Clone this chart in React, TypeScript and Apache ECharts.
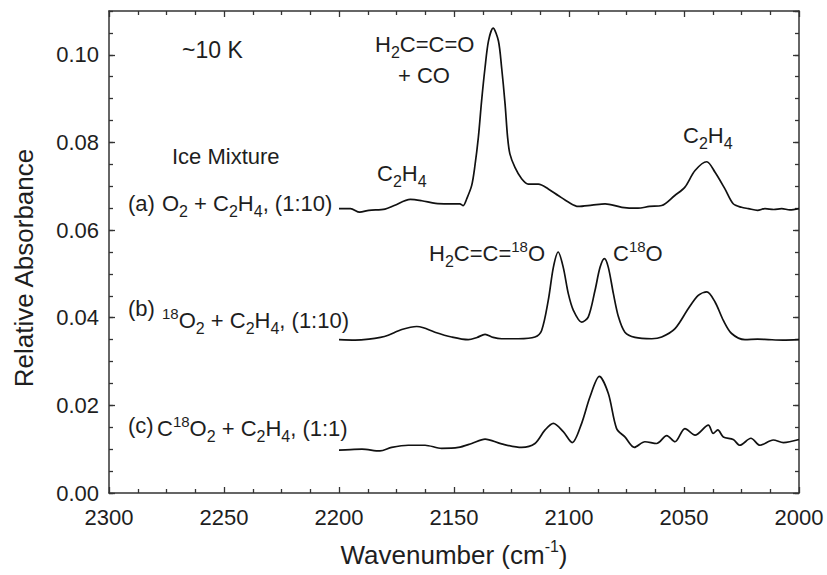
import React, { useEffect, useRef } from "react";
import * as echarts from "echarts";

// ---- data ----
const A_WN = [2200, 2195, 2191, 2187, 2180, 2176, 2169, 2164, 2158, 2152.5, 2147.5, 2146, 2144.5, 2142.3, 2141, 2139.4, 2138, 2136.5, 2135, 2133, 2130.7, 2129.3, 2127.8, 2126.7, 2125.7, 2123.5, 2120.6, 2117.7, 2113.3, 2109, 2104.7, 2100.3, 2096, 2090, 2084.3, 2077, 2070, 2065, 2059.7, 2054, 2049.6, 2045.2, 2040.1, 2036.5, 2032.2, 2028.6, 2025, 2022, 2018, 2014.8, 2011, 2007.5, 2004, 2000];
const A_VAL = [0.0649, 0.0649, 0.0641, 0.0645, 0.0648, 0.0656, 0.067, 0.0667, 0.0661, 0.066, 0.066, 0.0656, 0.0671, 0.0702, 0.0743, 0.0812, 0.0895, 0.0971, 0.1032, 0.1061, 0.1032, 0.0971, 0.0888, 0.0812, 0.0774, 0.0743, 0.0717, 0.0705, 0.0705, 0.0694, 0.0679, 0.0664, 0.0654, 0.0657, 0.066, 0.0652, 0.065, 0.0654, 0.0656, 0.0679, 0.0698, 0.0736, 0.0756, 0.0732, 0.0694, 0.066, 0.0652, 0.0649, 0.0645, 0.0649, 0.0647, 0.0649, 0.0646, 0.0649];

const B_WN = [2200, 2193, 2187, 2182, 2178.6, 2172.7, 2166.2, 2163.3, 2158.3, 2151, 2143.8, 2140, 2136.5, 2133, 2129.3, 2122, 2114.8, 2111.9, 2109, 2106.8, 2104.7, 2102.5, 2100.3, 2098.1, 2094.5, 2091.6, 2088.7, 2086.5, 2084.6, 2082.9, 2080.7, 2078.5, 2075.7, 2071.3, 2064, 2059.7, 2053.9, 2048.1, 2043.8, 2040.1, 2036.5, 2032.9, 2029.3, 2023.5, 2018, 2013.3, 2007, 2000];
const B_VAL = [0.035, 0.0349, 0.0351, 0.0355, 0.036, 0.0373, 0.038, 0.0377, 0.0367, 0.0356, 0.035, 0.0355, 0.0362, 0.0355, 0.0352, 0.0352, 0.0356, 0.0371, 0.044, 0.0515, 0.055, 0.0515, 0.0455, 0.0417, 0.039, 0.0402, 0.0462, 0.0515, 0.0535, 0.0515, 0.0455, 0.0402, 0.0367, 0.0355, 0.0352, 0.0356, 0.0375, 0.0421, 0.0451, 0.0459, 0.0436, 0.0394, 0.0364, 0.035, 0.0351, 0.035, 0.0349, 0.035];

const C_WN = [2200, 2195, 2190, 2182.2, 2177.1, 2169.9, 2162.6, 2155.4, 2148.1, 2142.3, 2136.5, 2129.3, 2120.6, 2114.8, 2110.4, 2106.8, 2102.5, 2098.6, 2094.5, 2090.9, 2086.8, 2082.9, 2079.3, 2075.7, 2071.6, 2067, 2061.9, 2057.5, 2053.9, 2049.6, 2045.2, 2039.4, 2037.3, 2035.3, 2032.9, 2028.6, 2025.7, 2020.9, 2017, 2011.2, 2006.8, 2000];
const C_VAL = [0.0098, 0.0099, 0.01, 0.0096, 0.0104, 0.0109, 0.0109, 0.0102, 0.0104, 0.0113, 0.0123, 0.0112, 0.0104, 0.0113, 0.0144, 0.0159, 0.014, 0.0115, 0.0159, 0.0219, 0.0266, 0.0227, 0.0147, 0.0128, 0.0104, 0.0117, 0.0113, 0.0131, 0.0117, 0.0147, 0.0132, 0.0155, 0.0136, 0.0144, 0.0128, 0.0122, 0.0109, 0.0125, 0.0109, 0.0121, 0.0115, 0.0122];

const X_MIN = 2000;
const X_MAX = 2300;
const X_STEP = 50;
const Y_MIN = 0;
const Y_MAX = 0.11;
const Y_STEP = 0.02;
const Y_MINOR_STEP = 0.005;

const FONT = '"Liberation Sans", Arial, Helvetica, sans-serif';
const INK = "#1e1e1e";
const AXIS = "#333333";

const pairs = (w: number[], v: number[]) => w.map((x, i) => [x, v[i]]);

const rich = {
  s: { font: `16px ${FONT}`, padding: [16, 0, 0, 0] },
  p: { font: `15px ${FONT}`, padding: [0, 0, 14, 0] },
  q: { font: `16px ${FONT}`, padding: [0, 0, 17, 0] },
};

function label(text: string, x: number, y: number, size = 22, extra: any = {}) {
  return {
    type: "text",
    x,
    y,
    z: 100,
    silent: true,
    ...extra,
    style: {
      text,
      rich,
      font: `${size}px ${FONT}`,
      fill: INK,
      align: extra.align || "left",
      verticalAlign: "middle",
      textAlign: extra.align || "left",
      textVerticalAlign: "middle",
    },
  };
}

export default function App() {
  const ref = useRef<HTMLDivElement>(null);
  useEffect(() => {
    if (!ref.current) return;
    const chart = echarts.init(ref.current, null, { renderer: "svg" });
    const tickStyle = { color: AXIS, width: 1.3 };
    const xBase = {
      type: "value",
      min: X_MIN,
      max: X_MAX,
      interval: X_STEP,
      inverse: true,
      axisLine: { show: true, onZero: false, lineStyle: { color: AXIS, width: 1.5 } },
      axisTick: { show: true, inside: true, length: 6, lineStyle: tickStyle },
      minorTick: { show: true, splitNumber: 4, length: 4, lineStyle: tickStyle },
      splitLine: { show: false },
      minorSplitLine: { show: false },
    };
    const yBase = {
      type: "value",
      min: Y_MIN,
      max: Y_MAX,
      splitLine: { show: false },
      axisLine: { show: false, onZero: false, lineStyle: { color: AXIS, width: 1.5 } },
      axisLabel: { show: false },
    };
    const series = [
      pairs(A_WN, A_VAL),
      pairs(B_WN, B_VAL),
      pairs(C_WN, C_VAL),
    ].map((d) => ({
      type: "line",
      data: d,
      xAxisIndex: 0,
      yAxisIndex: 0,
      showSymbol: false,
      symbol: "none",
      smooth: 0.3,
      silent: true,
      lineStyle: { color: "#111", width: 1.7 },
    }));

    chart.setOption({
      animation: false,
      grid: { left: 109, right: 28, top: 11, bottom: 82, containLabel: false },
      xAxis: [
        {
          ...xBase,
          position: "bottom",
          axisLabel: {
            show: true,
            margin: 13,
            fontSize: 22,
            color: INK,
            fontFamily: FONT,
            formatter: (v: number) => String(v),
          },
        },
        { ...xBase, position: "top", axisLabel: { show: false } },
      ],
      yAxis: [
        {
          ...yBase,
          position: "left",
          interval: Y_STEP,
          axisLine: { show: true, onZero: false, lineStyle: { color: AXIS, width: 1.5 } },
          axisTick: { show: true, inside: true, length: 6, lineStyle: tickStyle },
          axisLabel: {
            show: true,
            margin: 10,
            fontSize: 22,
            color: INK,
            fontFamily: FONT,
            showMaxLabel: false,
            formatter: (v: number) => v.toFixed(2),
          },
        },
        {
          ...yBase,
          position: "left",
          interval: Y_MINOR_STEP,
          axisTick: { show: true, inside: true, length: 4, lineStyle: tickStyle },
        },
        {
          ...yBase,
          position: "right",
          interval: Y_STEP,
          axisLine: { show: true, onZero: false, lineStyle: { color: AXIS, width: 1.5 } },
          axisTick: { show: true, inside: true, length: 6, lineStyle: tickStyle },
        },
        {
          ...yBase,
          position: "right",
          interval: Y_MINOR_STEP,
          axisTick: { show: true, inside: true, length: 4, lineStyle: tickStyle },
        },
      ],
      series,
      graphic: [
        label("~10 K", 182, 50, 23),
        label("H{s|2}C=C=O", 375, 44),
        label("+ CO", 398, 75),
        label("Ice Mixture", 172, 156),
        label("C{s|2}H{s|4}", 377, 173),
        label("C{s|2}H{s|4}", 683, 135),
        label("(a)", 128, 203),
        label("O{s|2} + C{s|2}H{s|4}, (1:10)", 162, 203),
        label("H{s|2}C=C={p|18}O", 429, 253),
        label("C{p|18}O", 613, 253),
        label("(b)", 128, 308),
        label("{p|18}O{s|2} + C{s|2}H{s|4}, (1:10)", 162, 320),
        label("(c)", 128, 425),
        label("C{p|18}O{s|2} + C{s|2}H{s|4}, (1:1)", 157, 428),
        label("Relative Absorbance", 24, 268, 26, { rotation: Math.PI / 2, align: "center" }),
        label("Wavenumber (cm{q|-1})", 454, 555, 26, { align: "center" }),
      ],
    });
    return () => chart.dispose();
  }, []);
  return (
    <div
      ref={ref}
      style={{ position: "absolute", left: 0, top: 0, width: 827, height: 575, background: "#fff" }}
    />
  );
}
